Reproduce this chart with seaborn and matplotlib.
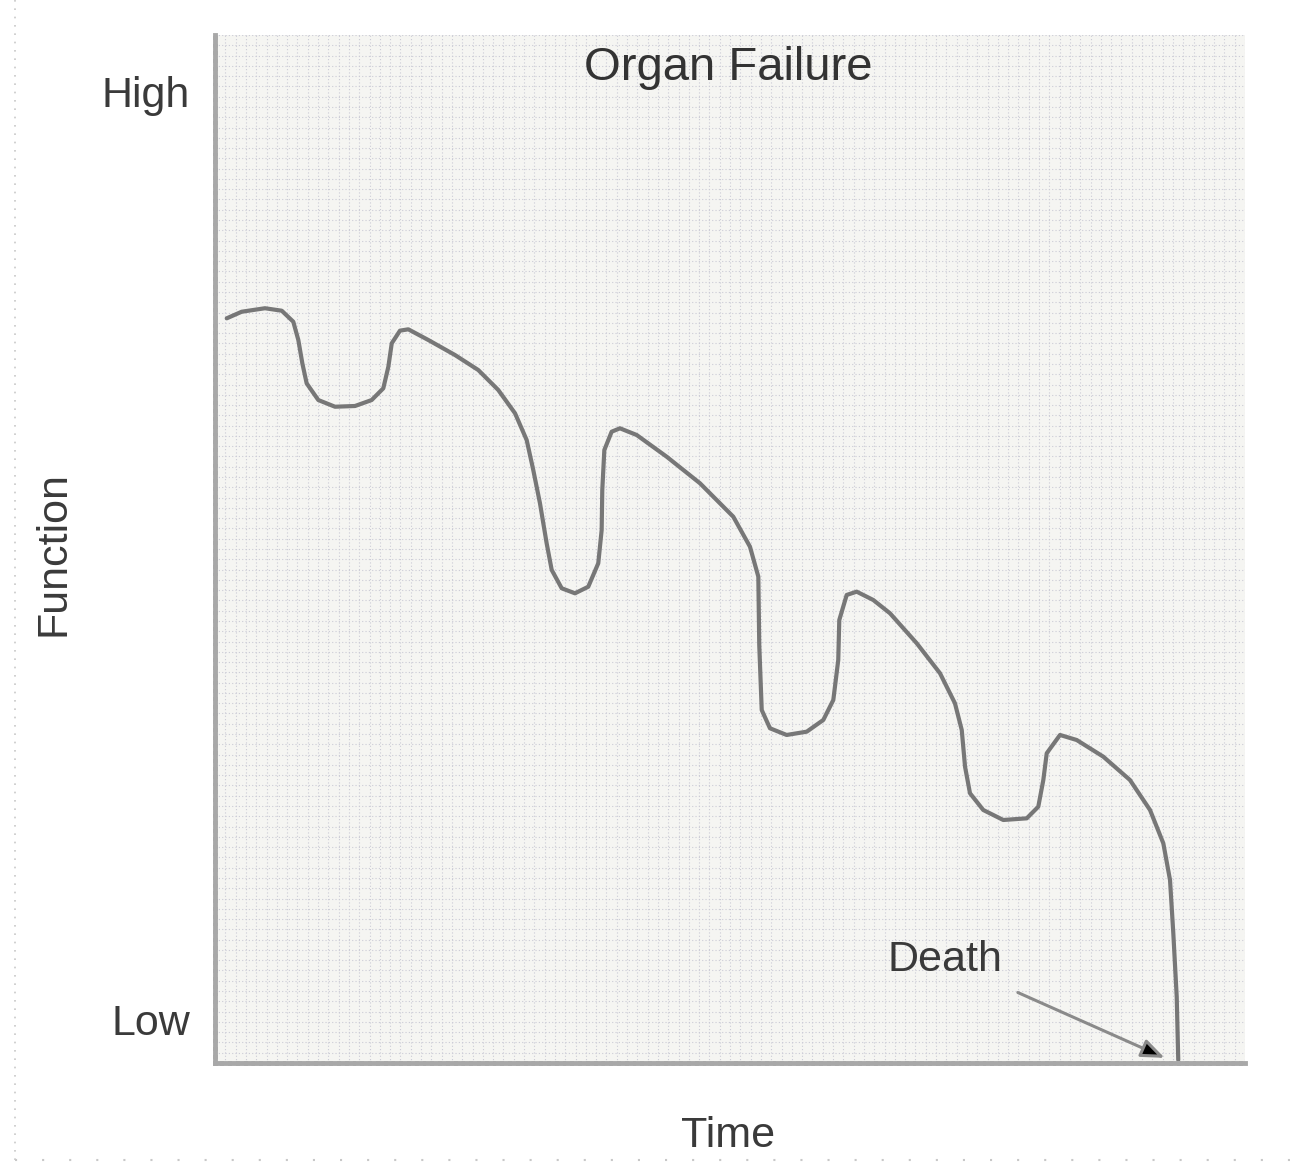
import matplotlib
matplotlib.use("Agg")
import matplotlib.pyplot as plt
import seaborn as sns
import pandas as pd
from matplotlib.lines import Line2D

# function curve (time, function) on a 0-100 scale
time = [1.14, 2.59, 4.85, 6.48, 7.60, 8.09, 8.48, 8.90, 10.03, 11.65, 13.59,
        15.21, 16.34, 16.83, 17.16, 17.96, 18.77, 20.71, 23.30, 25.56, 27.50,
        29.13, 30.26, 30.90, 31.55, 32.20, 32.69, 33.66, 34.95, 36.24, 37.21,
        37.54, 37.60, 37.80, 38.51, 39.32, 40.94, 43.85, 47.09, 50.32, 51.94,
        52.75, 52.84, 52.84, 53.08, 53.88, 55.50, 57.45, 59.06, 60.03, 60.51,
        60.61, 61.33, 62.30, 63.91, 65.53, 68.13, 70.39, 71.84, 72.50, 72.82,
        73.30, 74.59, 76.53, 78.81, 79.93, 80.42, 80.75, 82.04, 83.66, 86.24,
        88.83, 90.78, 92.07, 92.72, 93.04, 93.37, 93.52]
function = [72.44, 73.08, 73.42, 73.18, 72.11, 70.33, 68.06, 66.11, 64.49,
            63.84, 63.91, 64.49, 65.63, 67.73, 70.01, 71.24, 71.37, 70.33,
            68.87, 67.41, 65.47, 63.20, 60.60, 57.68, 54.45, 50.55, 47.96,
            46.18, 45.69, 46.33, 48.61, 51.85, 55.74, 59.63, 61.41, 61.74,
            61.09, 58.98, 56.39, 53.14, 50.22, 47.31, 43.09, 38.23, 34.34,
            32.56, 31.91, 32.23, 33.37, 35.31, 39.20, 43.09, 45.53, 45.85,
            45.04, 43.75, 40.83, 37.91, 34.99, 32.39, 28.82, 26.24, 24.61,
            23.64, 23.80, 24.93, 27.53, 30.13, 31.91, 31.42, 29.80, 27.53,
            24.61, 21.37, 17.80, 12.62, 6.45, 0.29]
ytick_pos = [4.2, 94.5]
ytick_labels = ["Low", "High"]

df = pd.DataFrame({"Time": time, "Function": function})

sns.set_style("white")
plt.rcParams["font.family"] = ["Liberation Sans", "DejaVu Sans"]
txt_color = "#3a3a3a"
fsize = 31

fig = plt.figure(figsize=(13.03, 11.66), dpi=100)
ax = fig.add_axes([215 / 1303, 1 - 1063 / 1166, 1030 / 1303, 1028 / 1166])
ax.set_facecolor("#f5f5f2")

sns.lineplot(data=df, x="Time", y="Function", sort=False, color="#777777",
             linewidth=3.0, ax=ax, solid_joinstyle="round",
             solid_capstyle="round")

ax.set_xlim(0, 100)
ax.set_ylim(0, 100)

# dotted paper texture
ax.set_xticks([i for i in range(0, 101)], minor=True)
ax.set_yticks([i for i in range(0, 101)], minor=True)
ax.grid(which="minor", color="#cbcbd6", linestyle=(0, (1, 2)), linewidth=0.8)
ax.tick_params(which="minor", length=0)

ax.set_xticks([])
ax.set_yticks(ytick_pos)
ax.set_yticklabels(ytick_labels, fontsize=fsize, color=txt_color)
ax.tick_params(axis="y", length=0, pad=18)

for side in ["top", "right"]:
    ax.spines[side].set_visible(False)
for side in ["left", "bottom"]:
    ax.spines[side].set_color("#a8a8a8")
    ax.spines[side].set_linewidth(3.5)
    ax.spines[side].set_linestyle((0, (1.2, 0.4)))

ax.set_xlabel("Time", fontsize=fsize, color=txt_color)
ax.xaxis.set_label_coords(0.498, -0.052)
ax.set_ylabel("Function", fontsize=fsize, color=txt_color)
ax.yaxis.set_label_coords(-0.137, 0.496)

ax.text(49.8, 96.8, "Organ Failure", fontsize=fsize + 3, color="#333333",
        ha="center", va="center")

ax.annotate("Death", xy=(92.2, 0.5), xytext=(70.9, 10.0), fontsize=fsize,
            color=txt_color, ha="center", va="center",
            arrowprops=dict(arrowstyle="-|>,head_length=1.0,head_width=0.4",
                            color="#8a8a8a", lw=2.2, shrinkA=16,
                            shrinkB=0, mutation_scale=14,
                            fc="black", ec="#8a8a8a"))

# faint dotted frame of the original scan
fig.add_artist(Line2D([15 / 1303, 15 / 1303], [1 - 1160 / 1166, 1.0],
                      transform=fig.transFigure, color="#c8c8c8",
                      linestyle=(0, (1, 4)), linewidth=1.2))
fig.add_artist(Line2D([15 / 1303, 1.0], [1 - 1160 / 1166, 1 - 1160 / 1166],
                      transform=fig.transFigure, color="#c8c8c8",
                      linestyle=(0, (1, 12)), linewidth=1.5))

fig.savefig("out.png", dpi=100)
